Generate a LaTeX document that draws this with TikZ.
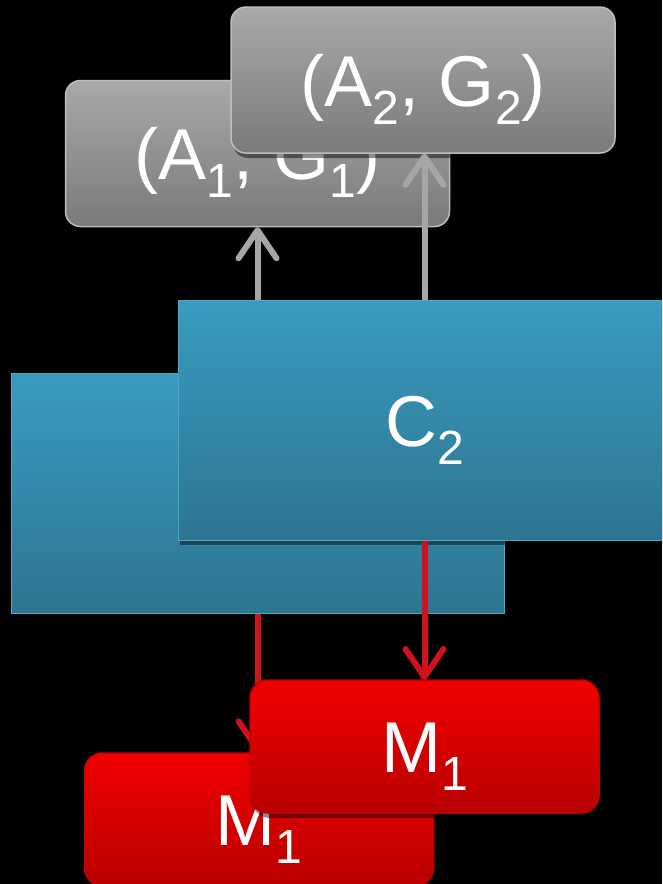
\documentclass[tikz,border=0pt]{standalone}
\usepackage{fontspec}
\setmainfont{Liberation Sans}
\usetikzlibrary{arrows.meta,shadows}
\definecolor{graytop}{HTML}{A9A9A9}
\definecolor{graybot}{HTML}{7A7A7A}
\definecolor{grayedge}{HTML}{BDBDBD}
\definecolor{grayarr}{HTML}{A6A6A6}
\definecolor{bluetop}{HTML}{3A9BC1}
\definecolor{bluebot}{HTML}{2C7590}
\definecolor{blueedge}{HTML}{4BA8CC}
\definecolor{redtop}{HTML}{F20000}
\definecolor{redbot}{HTML}{B80000}
\definecolor{rededge}{HTML}{C40000}
\definecolor{redarr}{HTML}{D0121C}
\newcommand{\subidx}[1]{\raisebox{-18pt}{\fontsize{48}{48}\selectfont #1}}
\tikzset{
  bigtext/.style={text=white, font=\fontsize{72}{72}\selectfont, text height=52pt, text depth=0pt, inner sep=0pt},
  graybox/.style={bigtext, rounded corners=15pt, draw=grayedge, line width=1.5pt, top color=graytop, bottom color=graybot, minimum width=384pt, minimum height=146pt},
  bluebox/.style={bigtext, draw=blueedge, line width=1pt, top color=bluetop, bottom color=bluebot, minimum width=493pt, minimum height=240pt},
  redbox/.style={bigtext, rounded corners=18pt, draw=rededge, line width=1.5pt, top color=redtop, bottom color=redbot, minimum width=349pt, minimum height=133pt},
  fshadow/.style={drop shadow={shadow xshift=2pt, shadow yshift=-5pt, opacity=0.45, fill=black}},
  grayarrow/.style={draw=grayarr, line width=6pt, -{Straight Barb[length=28pt,width=38pt,round]}},
  redarrow/.style={draw=redarr, line width=6pt, -{Straight Barb[length=28pt,width=38pt,round]}}
}
\begin{document}
\begin{tikzpicture}[x=1pt,y=-1pt]
\useasboundingbox (0,0) rectangle (662,884);
\fill[black] (0,0) rectangle (662,884);
\clip (0,0) rectangle (662,884);
\node[graybox] (AG1) at (257.5,153.5) {(A\subidx{1}, G\subidx{1})};
\node[graybox, fshadow] (AG2) at (423,80) {(A\subidx{2}, G\subidx{2})};
\node[bluebox] (C1) at (257.5,493) {};
\node[bluebox, fshadow] (C2) at (424.5,420) {C\subidx{2}};
\draw[grayarrow] (C2.north -| AG1.south) -- (AG1.south);
\draw[grayarrow] (C2.north) -- (C2.north |- AG2.south);
\node[redbox] (M1a) at (259,819.5) {M\subidx{1}};
\draw[redarrow] (C1.south) -- (C1.south |- M1a.north);
\draw[redarrow] (C2.south) -- (C2.south |- 0,680);
\node[redbox, fshadow] (M1b) at (424.5,746.5) {M\subidx{1}};
\end{tikzpicture}
\end{document}
